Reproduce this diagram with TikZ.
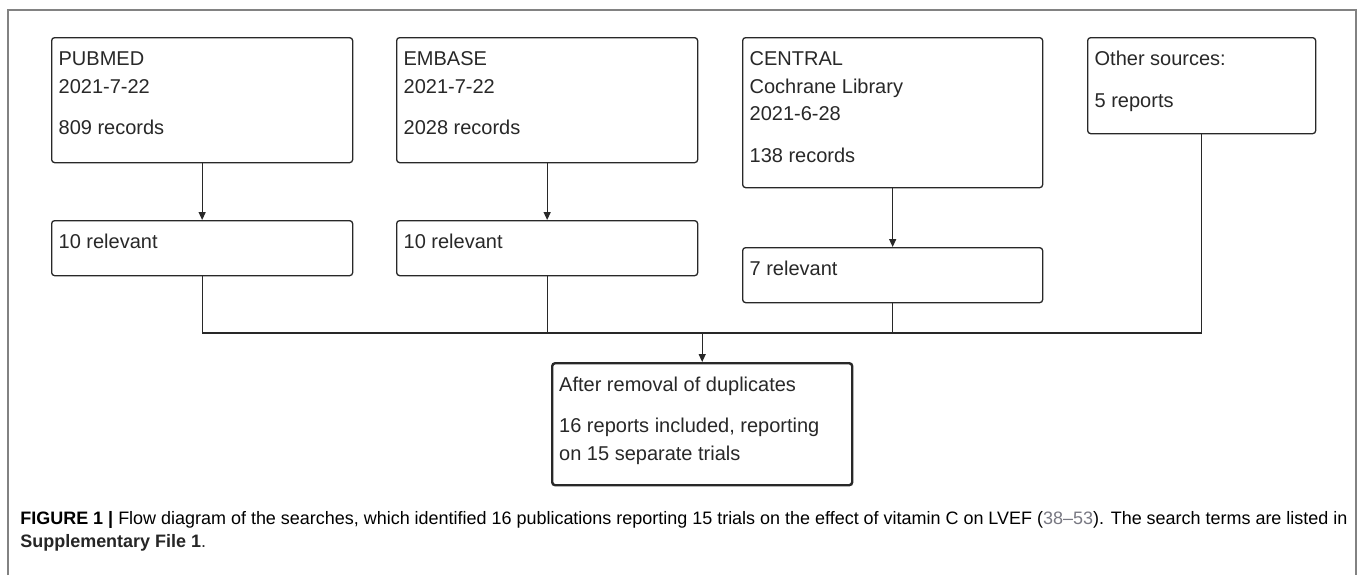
\documentclass[tikz,border=0pt]{standalone}
\usepackage{fontspec}
\usepackage{graphicx}
\setmainfont{Liberation Sans}
\usetikzlibrary{arrows.meta}
\definecolor{ln}{RGB}{40,40,40}
\definecolor{framecol}{RGB}{130,130,130}
\definecolor{citecol}{RGB}{120,120,130}
\newcommand\boxtxt[3]{\parbox[c][#2][t]{#1}{\raggedright\fontsize{10pt}{13.75pt}\selectfont\rule{0pt}{14pt}#3}}
\newsavebox\capA
\newlength\capW
\tikzset{
  box/.style={draw=ln, line width=0.65pt, rounded corners=1.5pt, anchor=north west, inner xsep=3.5pt, inner ysep=0pt, text=ln, fill=white},
  conn/.style={draw=ln, line width=0.65pt},
  arr/.style={conn, -{Triangle[length=4pt,width=3.5pt]}},
  framestyle/.style={draw=framecol, line width=0.6pt},
  capnode/.style={anchor=base west, inner sep=0pt, text=black!85}
}
\begin{document}
\sbox\capA{\fontsize{9pt}{11.5pt}\selectfont\textbf{FIGURE 1 |} Flow diagram of the searches, which identified 16 publications reporting 15 trials on the effect of vitamin C on LVEF (\textcolor{citecol}{38–53}). The search terms are listed in}%
\setlength\capW{\wd\capA}%
\pgfmathsetmacro\capr{663.5pt/\capW}%
\begin{tikzpicture}[x=0.5pt,y=-0.5pt]
\useasboundingbox (0,0) rectangle (1358,575);
\fill[white] (0,0) rectangle (1358,575);
\draw[framestyle] (8,575) -- (8,10) -- (1356,10) -- (1356,575);

\node[box] (pub) at (51,37) {\boxtxt{143.5pt}{62.5pt}{PUBMED\\2021-7-22\\[7pt]809 records}};
\node[box] (emb) at (396,37) {\boxtxt{143.5pt}{62.5pt}{EMBASE\\2021-7-22\\[7pt]2028 records}};
\node[box] (cen) at (742,37) {\boxtxt{143pt}{75pt}{CENTRAL\\Cochrane Library\\2021-6-28\\[7pt]138 records}};
\node[box] (oth) at (1087,37) {\boxtxt{107pt}{48pt}{Other sources:\\[7pt]5 reports}};
\node[box] (pubr) at (51,220) {\boxtxt{143.5pt}{27.5pt}{10 relevant}};
\node[box] (embr) at (396,220) {\boxtxt{143.5pt}{27.5pt}{10 relevant}};
\node[box] (cenr) at (742,247) {\boxtxt{143pt}{27.5pt}{7 relevant}};
\node[box, line width=1.2pt] (fin) at (551,362) {\boxtxt{143pt}{61pt}{After removal of duplicates\\[7pt]16 reports included, reporting\\on 15 separate trials}};

\coordinate (j) at (fin.north |- 0,333);
\draw[arr] (pub) -- (pubr);
\draw[arr] (emb) -- (embr);
\draw[arr] (cen) -- (cenr);
\draw[conn] (pubr.south) |- (j) -| (oth.south);
\draw[conn] (embr.south) -- (embr.south |- j);
\draw[conn] (cenr.south) -- (cenr.south |- j);
\draw[arr] (j) -- (fin.north);

\node[capnode] (cap1) at (20,524) {\scalebox{\capr}[1]{\usebox\capA}};
\node[capnode] (cap2) at (20,547) {\scalebox{\capr}[1]{\fontsize{9pt}{11.5pt}\selectfont\textbf{Supplementary File 1}.}};
\end{tikzpicture}
\end{document}
